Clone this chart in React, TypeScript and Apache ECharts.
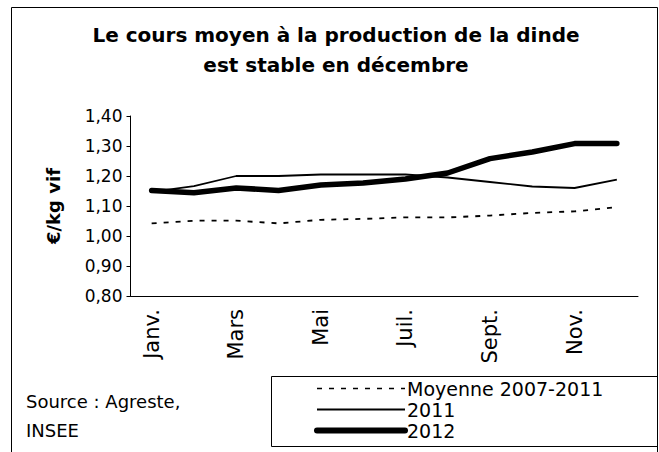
import React, { useEffect, useRef } from "react";
import * as echarts from "echarts";

const months = ["Janv.", "Févr.", "Mars", "Avr.", "Mai", "Juin", "Juil.", "Août", "Sept.", "Oct.", "Nov.", "Déc."];
const moyenne = [1.042, 1.051, 1.051, 1.042, 1.054, 1.057, 1.062, 1.062, 1.068, 1.077, 1.082, 1.096];
const y2011 = [1.147, 1.166, 1.2, 1.2, 1.205, 1.205, 1.205, 1.195, 1.18, 1.165, 1.16, 1.188];
const y2012 = [1.152, 1.144, 1.16, 1.152, 1.17, 1.177, 1.19, 1.21, 1.258, 1.28, 1.308, 1.308];
const seriesNames = ["Moyenne 2007-2011", "2011", "2012"];
const titleLines = ["Le cours moyen à la production de la dinde", "est stable en décembre"];
const yName = "€/kg vif";
const sourceLines = ["Source : Agreste,", "INSEE"];

const FONT = "DejaVu Sans, Verdana, sans-serif";

export default function App() {
  const ref = useRef<HTMLDivElement>(null);
  useEffect(() => {
    if (!ref.current) return;
    const chart = echarts.init(ref.current, undefined, { renderer: "svg" });
    chart.setOption({
      animation: false,
      backgroundColor: "#ffffff",
      textStyle: { fontFamily: FONT, color: "#000" },
      title: {
        text: titleLines.join("\n"),
        left: 331,
        textAlign: "center",
        top: 15,
        textStyle: { fontSize: 20, fontWeight: "bold", color: "#000", lineHeight: 30, fontFamily: FONT },
      },
      grid: { left: 130.5, right: 21, top: 116, bottom: 156 },
      xAxis: {
        type: "category",
        data: months,
        boundaryGap: true,
        axisLine: { lineStyle: { color: "#000", width: 1 } },
        axisTick: { interval: 0, length: 5, lineStyle: { color: "#000" } },
        axisLabel: { interval: 1, rotate: 90, fontSize: 21, color: "#000", margin: 13, fontFamily: FONT },
      },
      yAxis: {
        type: "value",
        min: 0.8,
        max: 1.4,
        interval: 0.1,
        name: yName,
        nameLocation: "middle",
        nameGap: 68,
        nameRotate: 90,
        nameMoveOverlap: false,
        nameTextStyle: { fontSize: 18, fontWeight: "bold", color: "#000", fontFamily: FONT },
        axisLine: { show: true, lineStyle: { color: "#000", width: 1 } },
        axisTick: { show: true, length: 4, lineStyle: { color: "#000" } },
        splitLine: { show: false },
        axisLabel: {
          fontSize: 17,
          color: "#000",
          margin: 8,
          fontFamily: FONT,
          formatter: (v: number) => v.toFixed(2).replace(".", ","),
        },
      },
      legend: {
        orient: "vertical",
        left: 314,
        top: 378,
        itemWidth: 88,
        itemHeight: 14,
        itemGap: 0,
        padding: 0,
        itemStyle: { opacity: 0 },
        data: [
          { name: seriesNames[0], lineStyle: { width: 1.5, type: [5, 7], color: "#000" } },
          { name: seriesNames[1], lineStyle: { width: 2, type: "solid", color: "#000" } },
          { name: seriesNames[2], lineStyle: { width: 6, type: "solid", color: "#000", cap: "round" } },
        ],
        textStyle: { fontSize: 19, lineHeight: 21, color: "#000", padding: [0, 0, 0, -3], fontFamily: FONT },
      },
      series: [
        {
          name: seriesNames[0],
          type: "line",
          data: moyenne,
          symbol: "none",
          lineStyle: { color: "#000", width: 1.8, type: [5, 7] },
          itemStyle: { color: "#000" },
        },
        {
          name: seriesNames[1],
          type: "line",
          data: y2011,
          symbol: "none",
          lineStyle: { color: "#000", width: 1.8 },
          itemStyle: { color: "#000" },
        },
        {
          name: seriesNames[2],
          type: "line",
          data: y2012,
          symbol: "none",
          lineStyle: { color: "#000", width: 5.5, cap: "round", join: "round" },
          itemStyle: { color: "#000" },
        },
      ],
      graphic: [
        {
          type: "rect",
          shape: { x: 11.5, y: 7.5, width: 646, height: 470 },
          style: { fill: "none", stroke: "#000", lineWidth: 1 },
          silent: true,
        },
        {
          type: "rect",
          shape: { x: 271.5, y: 376.5, width: 386, height: 70 },
          style: { fill: "none", stroke: "#000", lineWidth: 1 },
          silent: true,
        },
        {
          type: "text",
          left: 26,
          top: 392,
          style: { text: sourceLines[0], fontSize: 18, fill: "#000", fontFamily: FONT },
        },
        {
          type: "text",
          left: 26,
          top: 421,
          style: { text: sourceLines[1], fontSize: 18, fill: "#000", fontFamily: FONT },
        },
      ],
    });
    return () => chart.dispose();
  }, []);
  return (
    <div
      ref={ref}
      style={{ position: "absolute", left: 0, top: 0, width: 659, height: 452 }}
    />
  );
}
